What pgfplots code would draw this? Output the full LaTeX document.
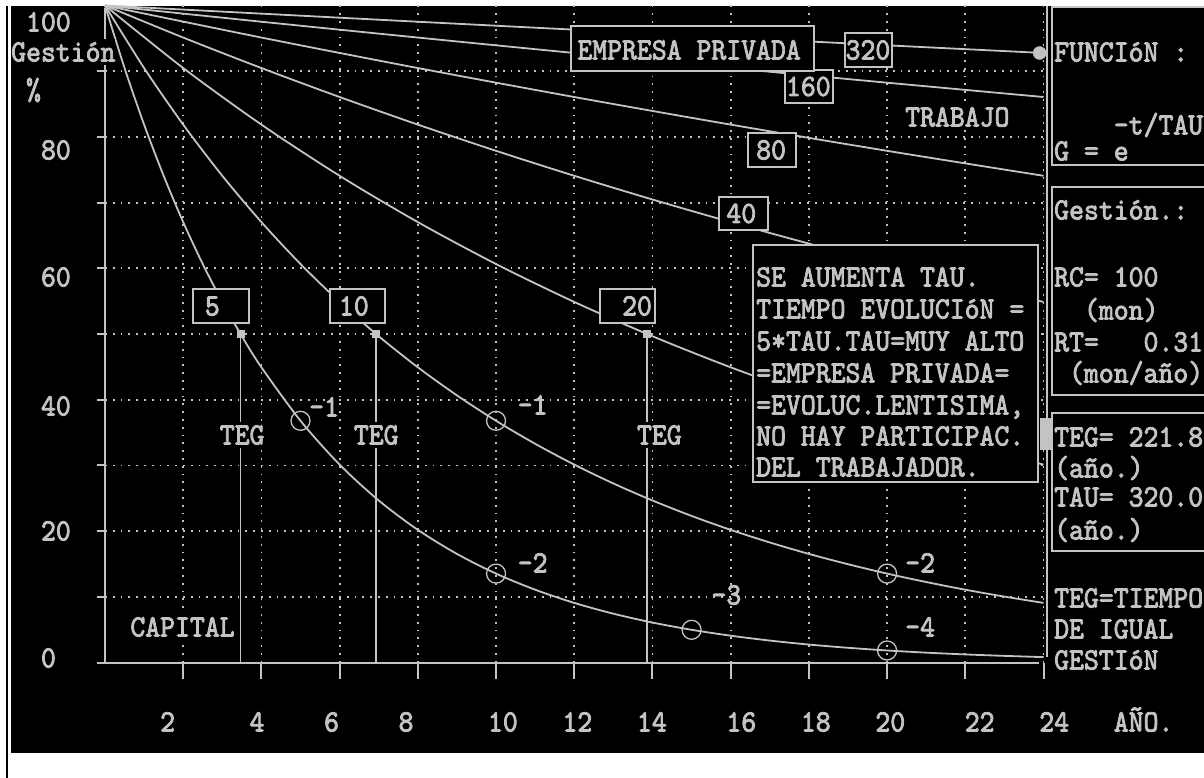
\documentclass[border=0pt]{standalone}
\usepackage{pgfplots}
\pgfplotsset{compat=1.18}
\usepackage{fontspec}
\newfontfamily\dos[FakeStretch=0.915,FakeBold=2.6]{lmmono10-regular.otf}
\newcommand\dosf{\dos\fontsize{31}{31.7}\selectfont}
\newlength\capH
\settoheight\capH{\dosf H}
\newlength\cellT\newlength\cellD
\setlength\cellT{\dimexpr 13pt+0.5\capH\relax}
\setlength\cellD{\dimexpr 13pt-0.5\capH\relax}
\definecolor{fg}{RGB}{195,195,195}
\tikzset{
 tn/.style={font=\dosf, text=fg, inner sep=0pt, text height=\the\cellT, text depth=\the\cellD, anchor=west},
 t/.style={tn, fill=black},
 bx/.style={draw=fg, line width=2pt, fill=black},
}
\newcommand\T[4][t]{\node[#1] at ({11+14.9*#2},#3) {#4};}
\begin{document}
\begin{tikzpicture}
\useasboundingbox (0,0) rectangle (1204pt,-778pt);
\fill[white] (0,0) rectangle (1204pt,-778pt);
\clip (0,0) rectangle (1204pt,-778pt);
\fill[black] (11pt,-6pt) rectangle (1204pt,-753pt);
\draw[black, line width=2pt] (6.5pt,-6pt) -- (6.5pt,-778pt);
\begin{axis}[at={(105pt,-662.5pt)}, anchor=south west, scale only axis,
 width=938.5pt, height=657pt, xmin=0, xmax=24, ymin=0, ymax=100,
 axis line style={draw=none}, xtick={2,4,...,24}, ytick={10,20,...,90},
 xticklabel={}, yticklabel={}, tick style={draw=none}, grid=major,
 major grid style={draw=fg, line width=1.8pt, dash pattern=on 1.8pt off 6pt},
 clip=false]
% TAU = 5
\addplot[fg, line width=1.8pt, smooth] coordinates {(0,100)(0.5,90.48)(1,81.87)(1.5,74.08)(2,67.03)(2.5,60.65)(3,54.88)(3.5,49.66)(4,44.93)(5,36.79)(6,30.12)(7,24.66)(8,20.19)(9,16.53)(10,13.53)(11,11.08)(12,9.07)(13,7.43)(14,6.08)(15,4.98)(16,4.08)(17,3.34)(18,2.73)(19,2.24)(20,1.83)(21,1.50)(22,1.23)(23,1.01)(24,0.82)};
% TAU = 10
\addplot[fg, line width=1.8pt, smooth] coordinates {(0,100)(1,90.48)(2,81.87)(3,74.08)(4,67.03)(5,60.65)(6,54.88)(7,49.66)(8,44.93)(9,40.66)(10,36.79)(11,33.29)(12,30.12)(13,27.25)(14,24.66)(15,22.31)(16,20.19)(17,18.27)(18,16.53)(19,14.96)(20,13.53)(21,12.25)(22,11.08)(23,10.03)(24,9.07)};
% TAU = 20
\addplot[fg, line width=1.8pt, smooth] coordinates {(0,100)(2,90.48)(4,81.87)(6,74.08)(8,67.03)(10,60.65)(12,54.88)(14,49.66)(16,44.93)(18,40.66)(20,36.79)(22,33.29)(24,30.12)};
% TAU = 40
\addplot[fg, line width=1.8pt, smooth] coordinates {(0,100)(2,95.12)(4,90.48)(6,86.07)(8,81.87)(10,77.88)(12,74.08)(14,70.47)(16,67.03)(18,63.76)(20,60.65)(22,57.69)(24,54.88)};
% TAU = 80
\addplot[fg, line width=1.8pt, smooth] coordinates {(0,100)(4,95.12)(8,90.48)(12,86.07)(16,81.87)(20,77.88)(24,74.08)};
% TAU = 160
\addplot[fg, line width=1.8pt, smooth] coordinates {(0,100)(4,97.53)(8,95.12)(12,92.77)(16,90.48)(20,88.25)(24,86.07)};
% TAU = 320
\addplot[fg, line width=1.8pt, smooth] coordinates {(0,100)(4,98.76)(8,97.53)(12,96.32)(16,95.12)(20,93.94)(24,92.77)};
% TEG lines
\addplot[fg, line width=1.8pt] coordinates {(3.466,50)(3.466,0)};
\addplot[fg, line width=1.8pt] coordinates {(6.931,50)(6.931,0)};
\addplot[fg, line width=1.8pt] coordinates {(13.863,50)(13.863,0)};
\addplot[only marks, mark=square*, mark size=3.5pt, fg] coordinates {(3.466,50)(6.931,50)(13.863,50)};
% circles at multiples of TAU
\addplot[only marks, mark=o, mark size=9.5pt, fg, mark options={line width=1.3pt}] coordinates {(5,36.79)(10,13.53)(15,4.98)(20,1.83)(10,36.79)(20,13.53)};
\addplot[only marks, mark=*, mark size=6.5pt, fg] coordinates {(23.9,92.77)};
\end{axis}
\begin{scope}[x=1pt,y=-1pt]
\draw[fg, line width=2pt] (105,8) -- (105,662.5);
\draw[fg, line width=2pt] (97,662.5) -- (1039,662.5);
\foreach \g in {10,20,...,90} \draw[fg,line width=2pt] (97,{662.5-6.57*\g}) -- (105,{662.5-6.57*\g});
\foreach \t in {2,4,...,24} \draw[fg,line width=2pt] ({105+39.104*\t},662.5) -- ++(0,16);
\draw[fg,line width=2pt] (1047,6) -- (1047,657);
% boxes
\draw[bx] (193,289) rectangle (249,323);
\draw[bx] (330,289) rectangle (385,323);
\draw[bx] (600,289) rectangle (655,323);
\draw[bx] (719,197) rectangle (768,230);
\draw[bx] (748,133) rectangle (796,167);
\draw[bx] (785,70) rectangle (833,103);
\draw[bx] (845,33) rectangle (892,67);
\draw[bx] (571,26) rectangle (814,71);
\draw[bx] (753,245) rectangle (1038,482);
\draw[bx] (1052,7) rectangle (1230,165);
\draw[bx] (1052,187) rectangle (1230,395);
\draw[bx] (1052,413) rectangle (1230,551);
\fill[fg] (1040,418) rectangle (1052,450);
% box labels
\T[tn]{13}{306}{5}
\T[tn]{22}{306}{10}
\T[tn]{41}{306}{20}
\T[tn]{48}{213.5}{40}
\T[tn]{50}{150}{80}
\T[tn]{52}{86.5}{160}
\T[tn]{56}{50}{320}
\T[tn]{38}{50}{EMPRESA PRIVADA}
% y labels
\T{1}{22}{100}
\T{0}{52}{Gestión}
\T{1}{90}{\%}
\T{2}{150}{80}
\T{2}{277}{60}
\T{2}{406}{40}
\T{2}{531}{20}
\T{2}{658}{0}
% x labels
\T{10}{722}{2}
\T{16}{722}{4}
\T{21}{722}{6}
\T{26}{722}{8}
\T{32}{722}{10}
\T{37}{722}{12}
\T{42}{722}{14}
\T{48}{722}{16}
\T{53}{722}{18}
\T{58}{722}{20}
\T{64}{722}{22}
\T{69}{722}{24}
\T{74}{722}{AÑO.}
% in-plot labels
\T{60}{117}{TRABAJO}
\T{8}{627}{CAPITAL}
\T{14}{435}{TEG}
\T{23}{435}{TEG}
\T{42}{435}{TEG}
\T[tn]{20}{407}{–1}
\T[tn]{34}{405}{–1}
\T[tn]{34}{563}{–2}
\T[tn]{47}{595}{–3}
\T[tn]{60}{563}{–2}
\T[tn]{60}{627}{–4}
% text box
\T[tn]{50}{277}{SE AUMENTA TAU.}
\T[tn]{50}{309}{TIEMPO EVOLUCIóN =}
\T[tn]{50}{341}{5*TAU.TAU=MUY ALTO}
\T[tn]{50}{373}{=EMPRESA PRIVADA=}
\T[tn]{50}{405}{=EVOLUC.LENTISIMA,}
\T[tn]{50}{436}{NO HAY PARTICIPAC.}
\T[tn]{50}{467}{DEL TRABAJADOR.}
% right panel
\T[tn]{70}{52}{FUNCIóN :}
\T[tn]{74}{125}{–t/TAU}
\T[tn]{70}{151}{G = e}
\T[tn]{70}{210}{Gestión.:}
\T[tn]{70}{277}{RC= 100}
\T[tn]{72}{310}{(mon)}
\T[tn]{70}{342}{RT=~~~0.31}
\T[tn]{71}{373}{(mon/año)}
\T[tn]{70}{437}{TEG= 221.8}
\T[tn]{70}{468}{(año.)}
\T[tn]{70}{497}{TAU= 320.0}
\T[tn]{70}{530}{(año.)}
\T{70}{598}{TEG=TIEMPO}
\T{70}{629}{DE IGUAL}
\T{70}{660}{GESTIóN}
\end{scope}
\end{tikzpicture}
\end{document}
